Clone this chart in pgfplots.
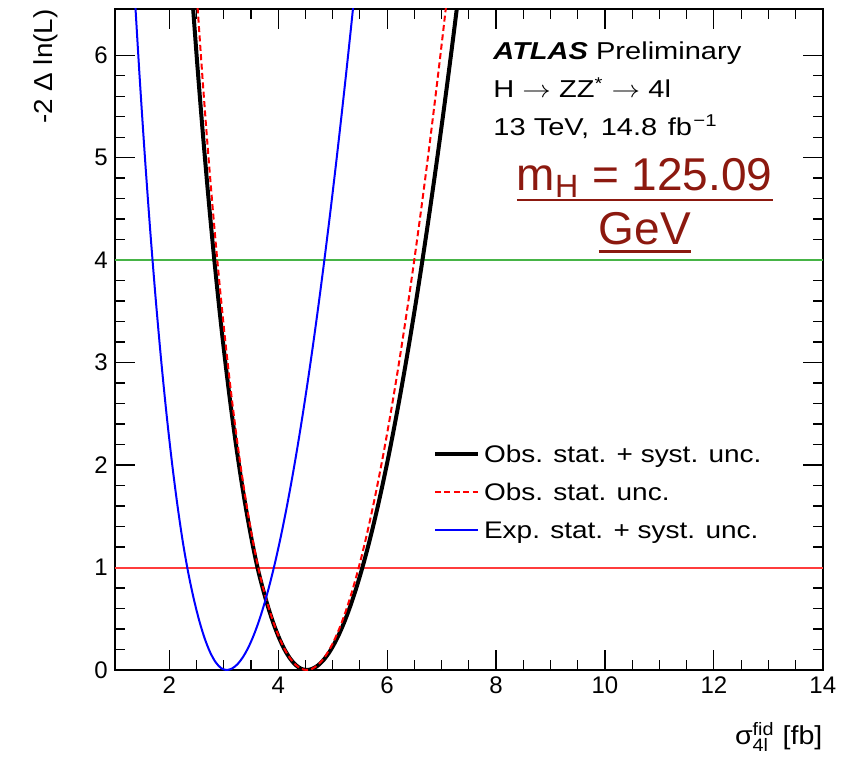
\documentclass[border=0pt]{standalone}
\usepackage{graphicx}
\usepackage{pgfplots}
\pgfplotsset{compat=1.18}
\usepackage{fontspec}
\setmainfont{Liberation Sans}
\definecolor{mhred}{RGB}{140,25,15}
\definecolor{twosigma}{RGB}{70,180,70}
\definecolor{onesig}{RGB}{255,60,60}
\newlength\ulw
\newcommand\ulA[2]{\settowidth\ulw{#1}\rlap{\rule[#2]{\ulw}{1.35pt}}#1}
\newcommand\sx[1]{\scalebox{1.19}[1]{#1}}
\newcommand\lx[1]{\strut\scalebox{1.165}[1]{#1}}
\begin{document}
\begin{tikzpicture}
\begin{axis}[
  name=ax,
  scale only axis,
  width=354pt, height=330.5pt,
  xmin=1, xmax=14, ymin=0, ymax=6.45,
  xtick={2,4,...,14}, ytick={0,1,...,6},
  minor x tick num=3, minor y tick num=4,
  tick align=inside,
  major tick length=10pt, minor tick length=5pt,
  axis line style={line width=0.8pt},
  every tick/.style={line width=0.6pt, black},
  /pgf/number format/assume math mode=true,
  ticklabel style={font=\fontsize{12}{14}\selectfont},
  xlabel={\scalebox{1.1}[1]{σ$^{\mbox{\fontsize{9}{10}\selectfont fid}}_{\mbox{\fontsize{9}{10}\selectfont 4l}}$ [fb]}},
  xlabel style={at={(rel axis cs:1,-0.112)}, anchor=base east, inner sep=0pt, font=\fontsize{13}{15}\selectfont},
  ylabel={\scalebox{1.07}[1]{-2 Δ ln(L)}},
  ylabel style={at={(rel axis cs:-0.0876,1)}, anchor=base east, inner sep=0pt, font=\fontsize{13}{15}\selectfont},
  legend style={at={(rel axis cs:0.449,0.351)}, anchor=north west, draw=none, fill=none,
    font=\fontsize{12}{14.5}\selectfont, row sep=3.3pt, inner sep=0pt,
    /tikz/every even column/.append style={column sep=6pt}},
  legend cell align=left,
  legend image code/.code={\draw[#1] (0pt,0pt) -- (21.5pt,0pt);},
]
\addplot[draw=twosigma, line width=0.6pt, forget plot] coordinates {(1,4) (14,4)};
\addplot[draw=onesig, line width=1pt, forget plot] coordinates {(1,1) (14,1)};

% Observed, stat. + syst.
\addplot[black, line width=2pt, smooth] coordinates {
(2.42,6.5843)(2.52,5.8742)(2.62,5.2151)(2.72,4.6049)(2.82,4.0418)(2.92,3.5234)(3.02,3.0478)(3.12,2.6135)(3.22,2.2185)(3.32,1.8612)(3.42,1.5400)(3.52,1.2535)(3.62,1.0)(3.72,0.7901)(3.82,0.6049)(3.92,0.4444)(4.02,0.3086)(4.12,0.1975)(4.22,0.1111)(4.32,0.0494)(4.42,0.0123)(4.52,0)
(4.62,0.0101)(4.72,0.0402)(4.82,0.0899)(4.92,0.1587)(5.02,0.2463)(5.12,0.3522)(5.22,0.4761)(5.32,0.6176)(5.42,0.7763)(5.52,0.9518)(5.62,1.1439)(5.72,1.3521)(5.82,1.5761)(5.92,1.8156)(6.02,2.0703)(6.12,2.3398)(6.22,2.6238)(6.32,2.9221)(6.42,3.2342)(6.52,3.5600)(6.62,3.8990)(6.72,4.2513)(6.82,4.6163)(6.92,4.9935)(7.02,5.3833)(7.12,5.7850)(7.22,6.1981)(7.32,6.6229)};
\addlegendentry{\lx{Obs. stat. + syst. unc.}}

% Observed, stat. only
\addplot[red, line width=1pt, dash pattern=on 3pt off 1.7pt, smooth] coordinates {
(2.52,6.4663)(2.62,5.7046)(2.72,5.0060)(2.82,4.3669)(2.92,3.7842)(3.02,3.2543)(3.12,2.7746)(3.22,2.3419)(3.32,1.9538)(3.42,1.6079)(3.52,1.3017)(3.62,1.0330)(3.72,0.8080)(3.82,0.6186)(3.92,0.4545)(4.02,0.3156)(4.12,0.2020)(4.22,0.1136)(4.32,0.0505)(4.42,0.0126)(4.52,0)
(4.62,0.0115)(4.72,0.0457)(4.82,0.1021)(4.92,0.1803)(5.02,0.2799)(5.12,0.4006)(5.22,0.5418)(5.32,0.7032)(5.42,0.8844)(5.52,1.0851)(5.62,1.3048)(5.72,1.5432)(5.82,1.7999)(5.92,2.0746)(6.02,2.3669)(6.12,2.6765)(6.22,3.0031)(6.32,3.3463)(6.42,3.7056)(6.52,4.0812)(6.62,4.4724)(6.72,4.8788)(6.82,5.3006)(6.92,5.7370)(7.02,6.1882)(7.12,6.6533)};
\addlegendentry{\lx{Obs. stat. unc.}}

% Expected, stat. + syst.
\addplot[blue, line width=1pt, smooth] coordinates {
(1.35,6.7279)(1.45,5.8380)(1.55,5.0273)(1.65,4.2916)(1.75,3.6270)(1.85,3.0298)(1.95,2.4964)(2.05,2.0235)(2.15,1.6078)(2.25,1.2464)(2.35,0.9452)(2.45,0.6944)(2.55,0.4823)(2.65,0.3086)(2.75,0.1736)(2.85,0.0772)(2.95,0.0193)(3.05,0)
(3.15,0.0139)(3.25,0.0552)(3.35,0.1234)(3.45,0.2178)(3.55,0.3380)(3.65,0.4833)(3.75,0.6534)(3.85,0.8475)(3.95,1.0653)(4.05,1.3061)(4.15,1.5696)(4.25,1.8553)(4.35,2.1626)(4.45,2.4913)(4.55,2.8406)(4.65,3.2102)(4.75,3.5998)(4.85,4.0088)(4.95,4.4369)(5.05,4.8838)(5.15,5.3490)(5.25,5.8318)(5.35,6.3323)(5.45,6.8497)};
\addlegendentry{\lx{Exp. stat. + syst. unc.}}

\node[anchor=base west, font=\fontsize{12.2}{14}\selectfont, inner sep=0pt] at (axis cs:7.945,5.957) {\sx{\textbf{\textit{ATLAS}} Preliminary}};
\node[anchor=base west, font=\fontsize{12.2}{14}\selectfont, inner sep=0pt] at (axis cs:7.945,5.583) {\sx{H $\rightarrow$ ZZ\textsuperscript{*} $\rightarrow$ 4l}};
\node[anchor=base west, font=\fontsize{12.2}{14}\selectfont, inner sep=0pt] at (axis cs:7.945,5.215) {\sx{13 TeV,\hspace{1.5pt} 14.8\hspace{1pt} fb\hspace{0.6pt}\textsuperscript{−1}}};
\node[anchor=base, text=mhred, font=\fontsize{23}{25}\selectfont, inner sep=0pt] at (axis cs:10.73,4.68) {\ulA{m\textsubscript{H} = 125.09}{-5.5pt}};
\node[anchor=base, text=mhred, font=\fontsize{23}{25}\selectfont, inner sep=0pt] at (axis cs:10.73,4.155) {\ulA{GeV}{-4.35pt}};
\end{axis}
\pgfresetboundingbox
\path ([shift={(-57.4pt,-43.5pt)}]ax.south west) rectangle ([shift={(376.1pt,335pt)}]ax.south west);
\end{tikzpicture}
\end{document}
